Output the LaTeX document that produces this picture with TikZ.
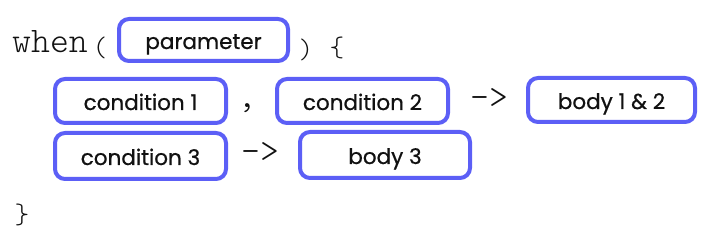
\documentclass[tikz,border=0pt]{standalone}
\usepackage{fontspec}
\setmainfont{Poppins}[FakeBold=0.6]
\newfontfamily\codefont{Latin Modern Mono Light}
\definecolor{boxblue}{RGB}{92,95,246}
\definecolor{ink}{RGB}{17,17,17}
\begin{document}
\begin{tikzpicture}[x=1pt,y=-1pt,
  pill/.style={draw=boxblue, line width=4pt, rounded corners=10pt, fill=white,
    inner sep=0pt, text height=18pt, text depth=0pt, text=ink,
    font=\fontsize{21.5}{21.5}\selectfont},
  code/.style={inner sep=0pt, text=ink, font=\codefont\fontsize{36}{36}\selectfont},
  punct/.style={inner sep=0pt, text=ink, font=\codefont\fontsize{28}{28}\selectfont}]
\useasboundingbox (0,0) rectangle (721,240);
% code text
\node[code, anchor=base west] (when) at (12,53) {when};
\node[punct] (lpar) at (100,47.5) {(};
\node[punct] (rpar) at (306,49.5) {)};
\node[punct] (lbrace) at (337,47.5) {\{};
\node[code, anchor=base] (comma) at (247,108) {,};
\node[code, anchor=base] (arrA) at (489,109) {->};
\node[code, anchor=base] (arrB) at (260,163) {->};
\node[inner sep=0pt, text=ink, font=\codefont\fontsize{28}{28}\selectfont] (rbrace) at (22,215) {\}};
% boxes
\node[pill, minimum width=169pt, minimum height=42pt] (param) at (203.5,40) {parameter};
\node[pill, minimum width=171pt, minimum height=44pt] (c1) at (140.5,101) {condition 1};
\node[pill, minimum width=171pt, minimum height=44pt] (c2) at (362.5,101) {condition 2};
\node[pill, minimum width=167pt, minimum height=44pt] (b12) at (611.5,100) {body 1 \& 2};
\node[pill, minimum width=171pt, minimum height=46pt] (c3) at (140.5,156) {condition 3};
\node[pill, minimum width=170pt, minimum height=46pt] (b3) at (385,155) {body 3};
\end{tikzpicture}
\end{document}
